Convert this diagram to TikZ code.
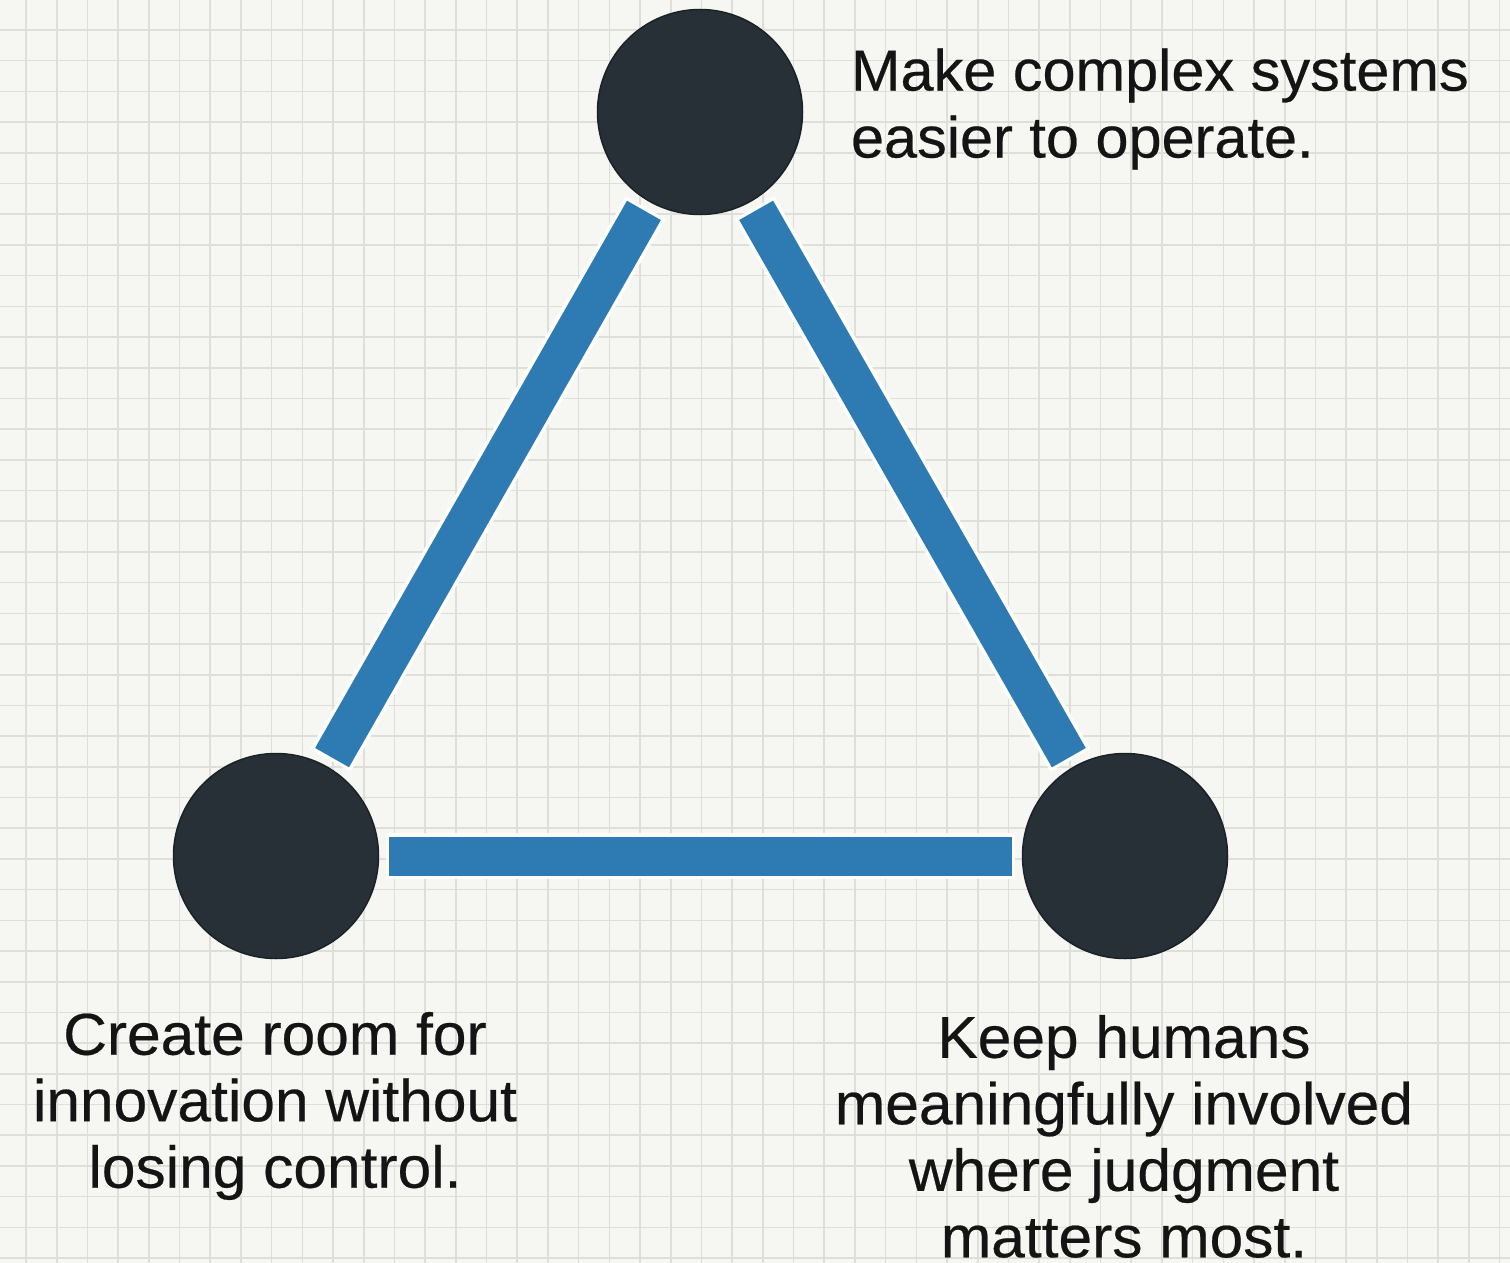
\documentclass[tikz,border=0pt]{standalone}
\usepackage{fontspec}
\setmainfont{Liberation Sans}[FakeStretch=1.025,FakeBold=0.4]
\definecolor{paper}{HTML}{F6F6F2}
\definecolor{gridline}{HTML}{DFDFDA}
\definecolor{dotfill}{HTML}{263036}
\definecolor{dotedge}{HTML}{1B2226}
\definecolor{bandblue}{HTML}{2E7BB3}
\definecolor{inktext}{HTML}{141414}
\tikzset{
  vertexdot/.style={circle, fill=dotfill, draw=dotedge, line width=1.5pt, minimum size=205pt, inner sep=0pt},
  haloband/.style={draw=white, line width=46pt, line cap=butt, shorten <=7pt, shorten >=7pt},
  blueband/.style={draw=bandblue, line width=39pt, line cap=butt, shorten <=10pt, shorten >=10pt},
  caption/.style={font=\fontsize{58}{67}\selectfont, text=inktext, inner sep=0pt, outer sep=0pt}
}
\begin{document}
\begin{tikzpicture}[x=1pt,y=-1pt]
\useasboundingbox (0,0) rectangle (1510,1263);
\fill[paper] (0,0) rectangle (1510,1263);
\foreach \i in {0,...,49} {
  \draw[gridline, line width=1.6pt] ({26+30.7*\i},0) -- ({26+30.7*\i},1263);
}
\foreach \j in {0,...,41} {
  \draw[gridline, line width=1.6pt] (0,{30+30.7*\j}) -- (1510,{30+30.7*\j});
}
% vertices
\node[vertexdot] (top) at (700,112) {};
\node[vertexdot] (left) at (276,856) {};
\node[vertexdot] (right) at (1125,856) {};
% bands
\draw[haloband] (top) -- (left);
\draw[haloband] (top) -- (right);
\draw[haloband] (left) -- (right);
\draw[blueband] (top) -- (left);
\draw[blueband] (top) -- (right);
\draw[blueband] (left) -- (right);
% captions
\node[caption, anchor=north west, align=left] (toptext) at (851,48.5)
  {Make complex systems\\easier to operate.};
\node[caption, anchor=north, align=center, font=\fontsize{59}{66.5}\selectfont] (lefttext) at (275,1012)
  {Create room for\\innovation without\\losing control.};
\node[caption, anchor=north, align=center, font=\fontsize{59}{66.5}\selectfont] (righttext) at (1124,1015)
  {Keep humans\\meaningfully involved\\where judgment\\matters most.};
\end{tikzpicture}
\end{document}
